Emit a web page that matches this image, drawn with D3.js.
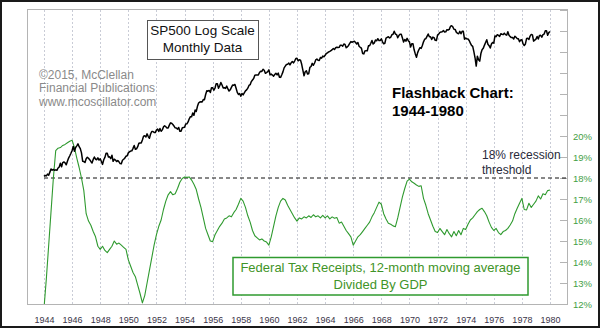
<!DOCTYPE html>
<html><head><meta charset="utf-8">
<script src="https://cdn.jsdelivr.net/npm/d3@7"></script>
<style>
html,body{margin:0;padding:0;background:#fff;}
svg{display:block;font-family:Arial,"Liberation Sans",sans-serif;}
</style></head><body>
<svg id="chart" width="600" height="328"></svg>
<script>
// S&P 500 month-end closes, Dec 1943 through Dec 1979
const sp500 = [
  11.67,
  11.85,11.77,12.10,11.89,12.47,13.10,12.86,12.99,12.82,12.91,12.82,13.28,
  13.49,14.30,13.54,14.44,14.58,14.39,13.96,14.74,15.48,16.03,16.65,17.36,
  18.49,17.16,18.20,18.67,19.25,18.43,17.89,16.76,14.75,14.67,14.47,15.30,
  15.67,15.43,15.10,14.69,14.36,15.16,15.72,15.20,15.09,15.51,14.99,15.30,
  14.68,14.04,15.07,15.63,16.67,16.65,15.75,15.78,15.34,16.17,14.73,15.20,
  15.00,14.66,14.91,14.60,14.22,14.16,14.97,15.20,15.46,15.92,16.04,16.76,
  17.05,17.22,17.29,17.96,18.78,17.69,17.84,18.42,19.45,19.53,19.51,20.43,
  21.66,21.80,21.40,22.43,21.52,20.96,22.40,23.28,23.26,22.94,22.88,23.77,
  24.14,23.26,24.37,23.32,23.86,24.96,25.40,25.03,24.54,24.52,25.66,26.57,
  26.38,25.90,25.29,24.62,24.54,24.14,24.75,23.32,23.35,24.54,24.76,24.81,
  26.08,26.15,26.94,28.26,29.19,29.21,30.88,29.83,32.31,31.68,34.24,35.98,
  36.63,36.76,36.58,37.96,37.91,41.03,43.52,43.18,43.67,42.34,45.51,45.48,
  43.82,45.34,48.48,48.38,45.20,46.97,49.39,47.51,45.35,45.58,45.08,46.67,
  44.72,43.26,44.11,45.74,47.43,47.37,47.91,45.22,42.42,41.06,41.72,39.99,
  41.70,40.84,42.10,43.44,44.09,45.24,47.19,47.75,50.06,51.33,52.48,55.21,
  55.42,55.41,55.44,57.59,58.68,58.47,60.51,59.60,56.88,57.52,58.28,59.89,
  55.61,56.12,55.34,54.37,55.83,56.92,55.51,56.96,53.52,53.39,55.54,58.11,
  61.78,63.44,65.06,65.31,66.56,64.64,66.76,68.07,66.73,68.62,71.32,71.55,
  68.84,69.96,69.55,65.24,59.63,54.75,58.23,59.12,56.27,56.52,62.26,63.10,
  66.20,64.29,66.57,69.80,70.80,69.37,69.13,72.50,71.70,74.01,73.23,75.02,
  77.04,77.80,78.98,79.46,80.37,81.69,83.18,81.83,84.18,84.86,84.42,84.75,
  87.56,87.43,86.16,89.11,88.42,84.12,85.25,87.17,89.96,92.42,91.61,92.43,
  92.88,91.22,89.23,91.06,86.13,84.74,83.60,77.10,76.56,80.20,80.45,80.33,
  86.61,86.78,90.20,94.01,89.08,90.64,94.75,93.64,96.71,93.90,94.00,96.47,
  92.24,89.36,90.20,97.59,98.68,99.58,97.74,98.86,102.67,103.41,108.37,103.86,
  103.01,98.13,101.51,103.69,103.46,97.71,91.83,95.51,93.12,97.24,93.81,92.06,
  85.02,89.50,89.63,81.52,76.55,72.72,78.05,81.52,84.21,83.25,87.20,92.15,
  95.88,96.75,100.31,103.95,99.63,99.70,95.58,99.03,98.34,94.23,93.99,102.09,
  103.94,106.57,107.20,107.67,109.53,107.14,107.39,111.09,110.55,111.58,116.67,118.05,
  116.03,111.68,111.52,106.97,104.95,104.26,108.22,104.25,108.43,108.29,95.96,97.55,
  96.57,96.22,93.98,90.31,87.28,86.00,79.31,72.15,63.54,73.90,69.97,68.56,
  76.98,81.59,83.36,87.30,91.15,95.19,88.75,86.88,83.87,89.04,91.24,90.19,
  100.86,99.71,102.77,101.64,100.18,104.28,103.44,102.91,105.24,102.90,102.10,107.46,
  102.03,99.82,98.42,98.44,96.12,100.48,98.85,96.77,96.53,92.34,94.83,95.10,
  89.25,87.04,89.21,96.83,97.24,95.53,100.68,103.29,102.54,93.15,94.70,96.11,
  99.93,96.28,101.59,101.76,99.08,102.91,103.81,109.32,109.32,101.82,106.16,107.94
];

// Federal tax receipts (12-month moving average) as % of GDP, every two months, 1944.0 - 1980.0
const taxGdp = [
  11.8, 13.2, 14.8, 16.4, 18.0, 19.3,
  19.42,19.45,19.55,19.6, 19.68,19.75,
  19.8, 19.45,18.95,18.5, 18.0, 17.4,
  16.3, 15.95,15.75,15.45,15.2, 14.75,
  14.6, 14.75,14.55,14.45,14.6, 14.75,
  15.0, 14.85,14.9, 14.8, 14.7, 14.6,
  14.1, 13.8, 13.5, 13.3, 12.9, 12.5,
  12.05,12.4, 13.0, 13.6, 14.2, 14.8,
  15.3, 15.7, 16.0, 16.5, 16.9, 17.2,
  17.35,17.2, 17.25,17.5, 17.8, 17.98,
  18.05,18.03,18.05,17.9, 17.7, 17.45,
  17.0, 16.6, 16.1, 15.6, 15.3, 15.0,
  14.97,15.3, 15.5, 15.7, 15.85,16.05,
  16.1, 16.2, 16.15,16.35,16.5, 16.75,
  17.03,16.9, 16.6, 16.2, 15.9, 15.5,
  15.25,15.15,15.05,15.1, 15.0, 14.95,
  14.8, 15.2, 15.7, 16.2, 16.6, 16.9,
  17.03,16.95,16.7, 16.5, 16.3, 16.1,
  15.95,16.1, 16.05,16.15,16.1, 16.2,
  16.12,16.25,16.15,16.2, 16.1, 16.22,
  16.1, 16.2, 16.05,16.15,16.08,16.12,
  15.85,15.9, 15.7, 15.5, 15.35,15.2,
  14.8, 15.0, 15.2, 15.3, 15.45,15.6,
  15.75,15.9, 16.15,16.35,16.6, 16.85,
  16.75,16.3, 16.05,15.85,15.8, 15.72,
  15.68,16.1, 16.6, 17.1, 17.5, 17.85,
  17.95,17.82,17.75,17.67,17.6, 17.63,
  17.03,16.7, 16.3, 16.0, 15.7, 15.45,
  15.4, 15.6, 15.45,15.3, 15.55,15.35,
  15.2, 15.45,15.25,15.5, 15.3, 15.6,
  15.55,15.8, 16.0, 16.1, 16.25,16.4,
  16.5, 16.56,16.4, 16.2, 15.9, 15.65,
  15.5, 15.6, 15.4, 15.3, 15.45,15.5,
  15.6, 15.76,15.95,16.3, 16.56,16.8,
  17.03,16.5, 16.48,16.8, 16.6, 16.75,
  16.9, 17.15,17.0, 17.25,17.2, 17.4,
  17.43
];

const yearTicks = [1944,1946,1948,1950,1952,1954,1956,1958,1960,1962,1964,1966,1968,1970,1972,1974,1976,1978,1980];
const pctTicks = [12,13,14,15,16,17,18,19,20,21,22,23,24,25,26];
const pctLabelMax = 20;
const thresholdPct = 18;

const svg = d3.select("#chart");
const plot = {left: 27, top: 9, right: 567, bottom: 304};

const x = d3.scaleLinear().domain([1944, 1980]).range([44, 550]);
const ySp = d3.scaleLog().domain([10, 100]).range([186.5, 36.5]);
const yPct = d3.scaleLinear().domain([12, 20]).range([304, 136]);

// outer frame
svg.append("rect").attr("x", 1).attr("y", 1).attr("width", 598).attr("height", 326)
  .attr("fill", "#fff").attr("stroke", "#1a1a1a").attr("stroke-width", 2);

// plot area
svg.append("rect").attr("x", plot.left + 0.5).attr("y", plot.top + 0.5)
  .attr("width", plot.right - plot.left).attr("height", plot.bottom - plot.top)
  .attr("fill", "#fff").attr("stroke", "#b4b4b4").attr("stroke-width", 1);

svg.append("defs").append("clipPath").attr("id", "plotClip")
  .append("rect").attr("x", plot.left).attr("y", plot.top)
  .attr("width", plot.right - plot.left).attr("height", plot.bottom - plot.top);

// vertical dotted gridlines
svg.append("g").selectAll("line").data(yearTicks).join("line")
  .attr("x1", d => Math.round(x(d)) + 0.5).attr("x2", d => Math.round(x(d)) + 0.5)
  .attr("y1", plot.top + 1).attr("y2", plot.bottom)
  .attr("stroke", "#c9ccd6").attr("stroke-width", 1).attr("stroke-dasharray", "2,2");

// bottom year axis
const xAxis = svg.append("g").attr("transform", `translate(0,${plot.bottom})`)
  .call(d3.axisBottom(x).tickValues(yearTicks).tickFormat(d3.format("d")).tickSize(0).tickPadding(12.5));
xAxis.select(".domain").remove();
xAxis.selectAll("text").attr("font-size", 9).attr("fill", "#3a3448")
  .attr("font-family", "Arial, 'Liberation Sans', sans-serif");

// right percent axis
const yAxis = svg.append("g").attr("transform", `translate(${plot.right - 7},0)`)
  .call(d3.axisRight(yPct).tickValues(pctTicks)
    .tickFormat(d => d <= pctLabelMax ? d + "%" : "").tickSize(7).tickPadding(6));
yAxis.select(".domain").remove();
yAxis.selectAll("line").attr("stroke", "#b4b4b4");
yAxis.selectAll("text").attr("font-size", 9.5).attr("fill", "#45a045")
  .attr("font-family", "Arial, 'Liberation Sans', sans-serif");

const g = svg.append("g").attr("clip-path", "url(#plotClip)");

// 18% threshold
g.append("line")
  .attr("x1", x(1944)).attr("x2", plot.right)
  .attr("y1", yPct(thresholdPct)).attr("y2", yPct(thresholdPct))
  .attr("stroke", "#111").attr("stroke-width", 1).attr("stroke-dasharray", "4,3");

// tax receipts / GDP line
const taxLine = d3.line().x((d, i) => x(1944 + i / 6)).y(d => yPct(d));
g.append("path").datum(taxGdp).attr("d", taxLine)
  .attr("fill", "none").attr("stroke", "#2f9a2f").attr("stroke-width", 1.1)
  .attr("stroke-linejoin", "round");

// S&P 500 line
const spLine = d3.line().x((d, i) => x(1944 + i / 12)).y(d => ySp(d));
g.append("path").datum(sp500).attr("d", spLine)
  .attr("fill", "none").attr("stroke", "#000").attr("stroke-width", 1.5)
  .attr("stroke-linejoin", "round");

// title box
svg.append("rect").attr("x", 147.5).attr("y", 20.5).attr("width", 111).attr("height", 39)
  .attr("fill", "#fff").attr("stroke", "#555").attr("stroke-width", 1);
svg.append("text").attr("x", 202.5).attr("y", 34.5).attr("text-anchor", "middle")
  .attr("font-size", 13.5).attr("fill", "#111").text("SP500 Log Scale");
svg.append("text").attr("x", 202.5).attr("y", 52).attr("text-anchor", "middle")
  .attr("font-size", 13.5).attr("fill", "#111").text("Monthly Data");

// credits
const credits = ["\u00A92015, McClellan", "Financial Publications", "www.mcoscillator.com"];
svg.append("g").selectAll("text").data(credits).join("text")
  .attr("x", 39).attr("y", (d, i) => 79 + i * 13.3)
  .attr("font-size", 12).attr("fill", "#8a8a8a").text(d => d);

// headline
svg.append("text").attr("x", 392).attr("y", 98).attr("font-size", 15).attr("font-weight", "bold")
  .attr("fill", "#000").text("Flashback Chart:");
svg.append("text").attr("x", 392).attr("y", 116).attr("font-size", 15).attr("font-weight", "bold")
  .attr("fill", "#000").text("1944-1980");

// threshold note
svg.append("text").attr("x", 482).attr("y", 159).attr("font-size", 12).attr("fill", "#2a2a3a").text("18% recession");
svg.append("text").attr("x", 482).attr("y", 174).attr("font-size", 12).attr("fill", "#2a2a3a").text("threshold");

// series legend box
svg.append("rect").attr("x", 233).attr("y", 257.5).attr("width", 295).attr("height", 37.5)
  .attr("fill", "#fff").attr("stroke", "#2f9a2f").attr("stroke-width", 1.5);
svg.append("text").attr("x", 380.5).attr("y", 272).attr("text-anchor", "middle")
  .attr("font-size", 13).attr("fill", "#3f9428").text("Federal Tax Receipts, 12-month moving average");
svg.append("text").attr("x", 380.5).attr("y", 288.5).attr("text-anchor", "middle")
  .attr("font-size", 13).attr("fill", "#3f9428").text("Divided By GDP");
</script>
</body></html>
